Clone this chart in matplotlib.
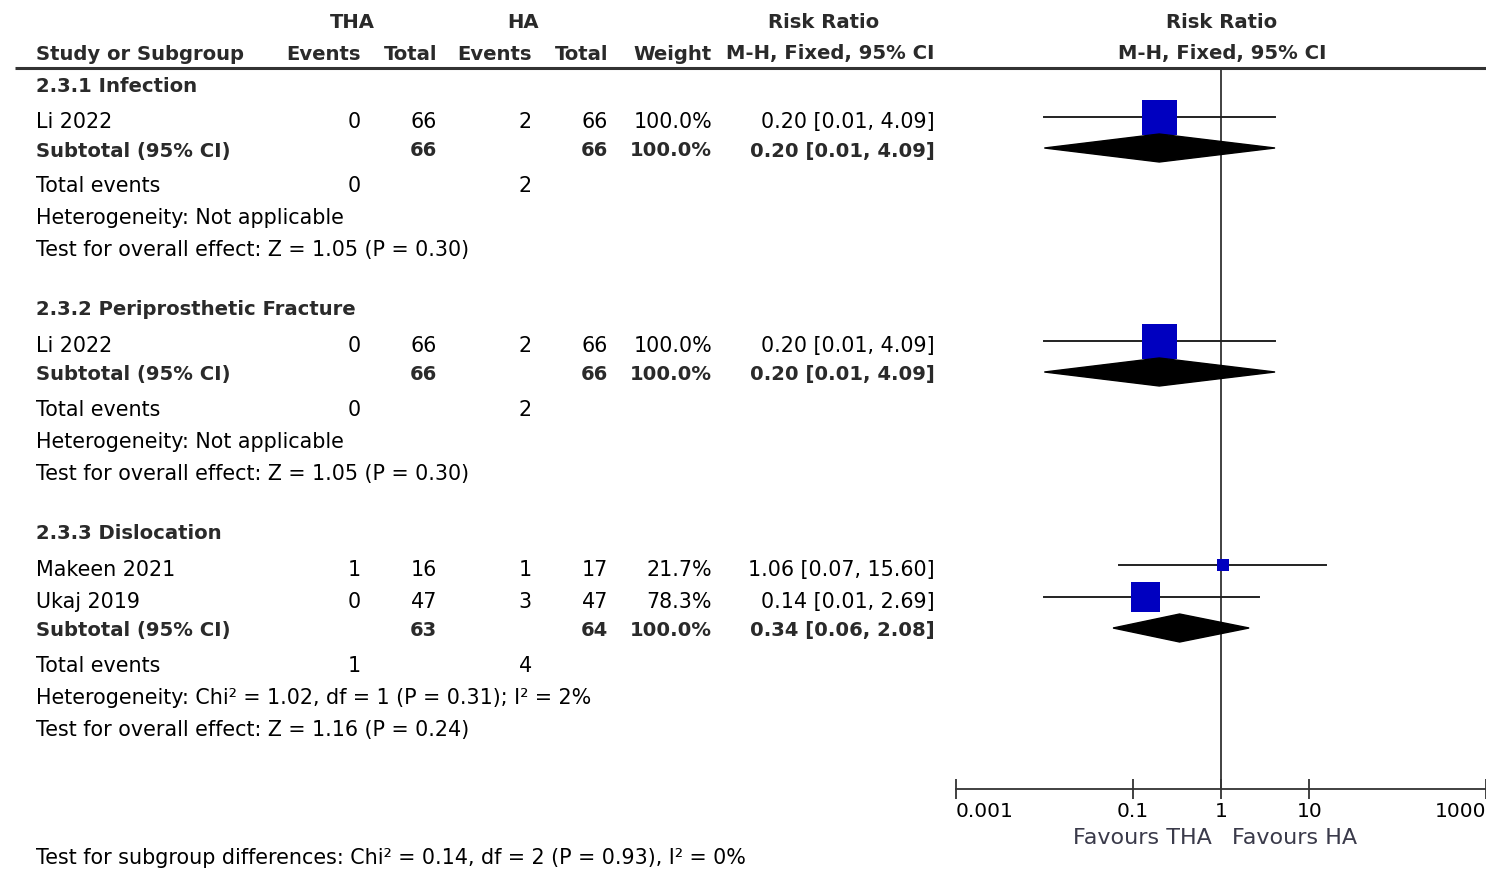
import numpy as np
import matplotlib.pyplot as plt
from matplotlib.patches import Polygon
from matplotlib.ticker import NullLocator

plt.rcParams['font.family'] = ['DejaVu Sans']

# subgroups
groups = ["2.3.1 Infection", "2.3.2 Periprosthetic Fracture", "2.3.3 Dislocation"]

# individual studies
study = ["Li 2022", "Li 2022", "Makeen 2021", "Ukaj 2019"]
study_grp = [0, 1, 2, 2]
tha_ev = [0, 0, 1, 0]
tha_n = [66, 66, 16, 47]
ha_ev = [2, 2, 1, 3]
ha_n = [66, 66, 17, 47]
weight = [100.0, 100.0, 21.7, 78.3]
rr = [0.20, 0.20, 1.06, 0.14]
rr_lo = [0.01, 0.01, 0.07, 0.01]
rr_hi = [4.09, 4.09, 15.60, 2.69]

# subtotals
sub_tha_n = [66, 66, 63]
sub_ha_n = [66, 66, 64]
sub_rr = [0.20, 0.20, 0.34]
sub_lo = [0.01, 0.01, 0.06]
sub_hi = [4.09, 4.09, 2.08]
tot_tha_ev = [0, 0, 1]
tot_ha_ev = [2, 2, 4]
het = ["Heterogeneity: Not applicable",
       "Heterogeneity: Not applicable",
       "Heterogeneity: Chi² = 1.02, df = 1 (P = 0.31); I² = 2%"]
overall = ["Test for overall effect: Z = 1.05 (P = 0.30)",
           "Test for overall effect: Z = 1.05 (P = 0.30)",
           "Test for overall effect: Z = 1.16 (P = 0.24)"]
subgroup_test = "Test for subgroup differences: Chi² = 0.14, df = 2 (P = 0.93), I² = 0%"

ticks = [0.001, 0.1, 1, 10, 1000]
tick_labels = ["0.001", "0.1", "1", "10", "1000"]

W, H = 1486, 870
fig = plt.figure(figsize=(W / 100, H / 100), dpi=100)
ax = fig.add_axes([0, 0, 1, 1])
ax.set_xlim(0, W)
ax.set_ylim(H, 0)
ax.axis('off')

fx0 = 956
fx = fig.add_axes([fx0 / W, 0, (W - fx0) / W, 1])
fx.set_xscale('log')
fx.set_xlim(0.001, 1000)
fx.set_ylim(H, 0)
fx.patch.set_visible(False)
for s in ['left', 'right', 'top']:
    fx.spines[s].set_visible(False)
fx.yaxis.set_visible(False)

FS = 14.9
FSB = 14.1
BOLD = '#2a2a2a'
SQ = '#0000c0'
LC = '#222222'

# column right edges
c_tha_ev, c_tha_n, c_ha_ev, c_ha_n, c_w, c_ci = 361, 437, 532, 608, 712, 935

# header
hb = dict(fontsize=FSB, fontweight='bold', color=BOLD, va='center')
ax.text(352, 22, "THA", ha='center', **hb)
ax.text(523, 22, "HA", ha='center', **hb)
ax.text(824, 22, "Risk Ratio", ha='center', **hb)
ax.text(1222, 22, "Risk Ratio", ha='center', **hb)
ax.text(36, 54, "Study or Subgroup", ha='left', **hb)
for x, t in zip([c_tha_ev, c_tha_n, c_ha_ev, c_ha_n, c_w, c_ci],
                ["Events", "Total", "Events", "Total", "Weight", "M-H, Fixed, 95% CI"]):
    ax.text(x, 54, t, ha='right', **hb)
ax.text(1222, 54, "M-H, Fixed, 95% CI", ha='center', **hb)
ax.plot([15, W], [69, 69], color='#333333', lw=2.2, solid_capstyle='butt')

reg = dict(fontsize=FS, color='black', va='center')
y = 86
for g, name in enumerate(groups):
    ax.text(36, y, name, ha='left', **hb)
    y += 36
    idx = [i for i in range(len(study)) if study_grp[i] == g]
    for k, i in enumerate(idx):
        if k > 0:
            y += 32
        ax.text(36, y, study[i], ha='left', **reg)
        ax.text(c_tha_ev, y, str(tha_ev[i]), ha='right', **reg)
        ax.text(c_tha_n, y, str(tha_n[i]), ha='right', **reg)
        ax.text(c_ha_ev, y, str(ha_ev[i]), ha='right', **reg)
        ax.text(c_ha_n, y, str(ha_n[i]), ha='right', **reg)
        ax.text(c_w, y, f"{weight[i]:.1f}%", ha='right', **reg)
        ax.text(c_ci, y, f"{rr[i]:.2f} [{rr_lo[i]:.2f}, {rr_hi[i]:.2f}]", ha='right', **reg)
        ym = y - 4
        fx.plot([rr_lo[i], rr_hi[i]], [ym, ym], color=LC, lw=1.4, zorder=3)
        side = 35 * (weight[i] / 100) ** 0.7
        fx.scatter([rr[i]], [ym], marker='s', s=(side * 0.72) ** 2, color=SQ,
                   edgecolors='none', zorder=4)
    y += 29
    ax.text(36, y, "Subtotal (95% CI)", ha='left', **hb)
    ax.text(c_tha_n, y, str(sub_tha_n[g]), ha='right', **hb)
    ax.text(c_ha_n, y, str(sub_ha_n[g]), ha='right', **hb)
    ax.text(c_w, y, "100.0%", ha='right', **hb)
    ax.text(c_ci, y, f"{sub_rr[g]:.2f} [{sub_lo[g]:.2f}, {sub_hi[g]:.2f}]", ha='right', **hb)
    yd = y - 2
    dia = Polygon([(sub_lo[g], yd), (sub_rr[g], yd - 14), (sub_hi[g], yd), (sub_rr[g], yd + 14)],
                  closed=True, color='black', zorder=5)
    fx.add_patch(dia)
    y += 35
    ax.text(36, y, "Total events", ha='left', **reg)
    ax.text(c_tha_ev, y, str(tot_tha_ev[g]), ha='right', **reg)
    ax.text(c_ha_ev, y, str(tot_ha_ev[g]), ha='right', **reg)
    y += 32
    ax.text(36, y, het[g], ha='left', **reg)
    y += 32
    ax.text(36, y, overall[g], ha='left', **reg)
    y += 60

# null line and axis
fx.plot([1, 1], [70, 790], color='#333333', lw=1.3, zorder=2)
fx.spines['bottom'].set_position(('data', 790))
fx.spines['bottom'].set_linewidth(1.3)
fx.spines['bottom'].set_color('#333333')
fx.set_xticks(ticks)
fx.set_xticklabels(tick_labels)
fx.xaxis.set_minor_locator(NullLocator())
fx.tick_params(axis='x', direction='inout', length=14, width=1.3, color='#333333',
               labelsize=14.5, pad=2)
labs = fx.get_xticklabels()
labs[0].set_ha('left')
labs[-1].set_ha('right')

ax.text(1212, 838, "Favours THA", ha='right', fontsize=16, color='#3a3a4a', va='center')
ax.text(1232, 838, "Favours HA", ha='left', fontsize=16, color='#3a3a4a', va='center')

ax.text(36, 858, subgroup_test, ha='left', **reg)

fig.savefig("out.png", dpi=100)
